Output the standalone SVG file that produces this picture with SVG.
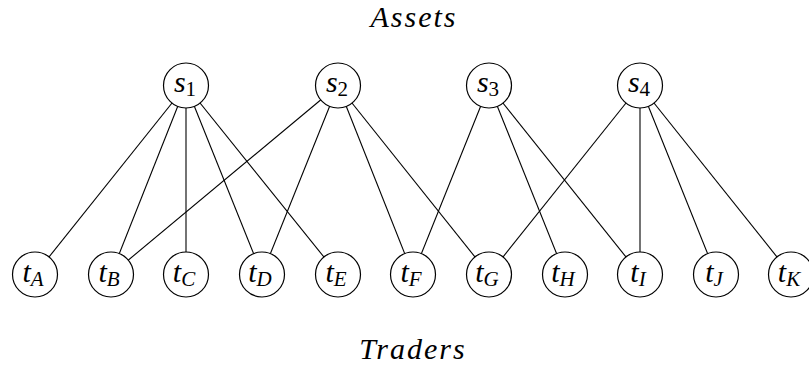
<svg xmlns="http://www.w3.org/2000/svg" width="809" height="367" viewBox="0 0 809 367">
<style>
.node circle{fill:#fff;stroke:#000;stroke-width:1.2}
.lbl{text-anchor:middle;fill:#000}
.title{text-anchor:middle;letter-spacing:2px;fill:#000}
#edges line{stroke:#000;stroke-width:1.1}
</style>
<rect width="809" height="367" fill="#fff"/>
<g font-family="Liberation Serif" font-style="italic">
<text class="title" x="414" y="27" font-size="30">Assets</text>
<text class="title" x="413" y="359" font-size="30">Traders</text>
</g>
<g id="edges">
<line x1="186" y1="85.5" x2="35" y2="274.5"/>
<line x1="186" y1="85.5" x2="111" y2="274.5"/>
<line x1="186" y1="85.5" x2="186" y2="274.5"/>
<line x1="186" y1="85.5" x2="262" y2="274.5"/>
<line x1="186" y1="85.5" x2="338" y2="274.5"/>
<line x1="338" y1="85.5" x2="111" y2="274.5"/>
<line x1="338" y1="85.5" x2="262" y2="274.5"/>
<line x1="338" y1="85.5" x2="413" y2="274.5"/>
<line x1="338" y1="85.5" x2="489" y2="274.5"/>
<line x1="489" y1="85.5" x2="413" y2="274.5"/>
<line x1="489" y1="85.5" x2="565" y2="274.5"/>
<line x1="489" y1="85.5" x2="640" y2="274.5"/>
<line x1="640" y1="85.5" x2="489" y2="274.5"/>
<line x1="640" y1="85.5" x2="640" y2="274.5"/>
<line x1="640" y1="85.5" x2="716" y2="274.5"/>
<line x1="640" y1="85.5" x2="791" y2="274.5"/>
</g>
<g font-family="Liberation Serif" font-style="italic" font-size="30">
<g id="s1" class="node"><circle cx="186" cy="85.5" r="22.5"/><text class="lbl" x="185" y="92">s<tspan font-style="normal" font-size="21" dy="4">1</tspan></text></g>
<g id="s2" class="node"><circle cx="338" cy="85.5" r="22.5"/><text class="lbl" x="337" y="92">s<tspan font-style="normal" font-size="21" dy="4">2</tspan></text></g>
<g id="s3" class="node"><circle cx="489" cy="85.5" r="22.5"/><text class="lbl" x="488" y="92">s<tspan font-style="normal" font-size="21" dy="4">3</tspan></text></g>
<g id="s4" class="node"><circle cx="640" cy="85.5" r="22.5"/><text class="lbl" x="639" y="92">s<tspan font-style="normal" font-size="21" dy="4">4</tspan></text></g>
<g id="tA" class="node"><circle cx="35" cy="274.5" r="22.5"/><text class="lbl" x="33" y="282">t<tspan font-size="21" dy="4">A</tspan></text></g>
<g id="tB" class="node"><circle cx="111" cy="274.5" r="22.5"/><text class="lbl" x="109" y="282">t<tspan font-size="21" dy="4">B</tspan></text></g>
<g id="tC" class="node"><circle cx="186" cy="274.5" r="22.5"/><text class="lbl" x="184" y="282">t<tspan font-size="21" dy="4">C</tspan></text></g>
<g id="tD" class="node"><circle cx="262" cy="274.5" r="22.5"/><text class="lbl" x="260" y="282">t<tspan font-size="21" dy="4">D</tspan></text></g>
<g id="tE" class="node"><circle cx="338" cy="274.5" r="22.5"/><text class="lbl" x="336" y="282">t<tspan font-size="21" dy="4">E</tspan></text></g>
<g id="tF" class="node"><circle cx="413" cy="274.5" r="22.5"/><text class="lbl" x="411" y="282">t<tspan font-size="21" dy="4">F</tspan></text></g>
<g id="tG" class="node"><circle cx="489" cy="274.5" r="22.5"/><text class="lbl" x="487" y="282">t<tspan font-size="21" dy="4">G</tspan></text></g>
<g id="tH" class="node"><circle cx="565" cy="274.5" r="22.5"/><text class="lbl" x="563" y="282">t<tspan font-size="21" dy="4">H</tspan></text></g>
<g id="tI" class="node"><circle cx="640" cy="274.5" r="22.5"/><text class="lbl" x="638" y="282">t<tspan font-size="21" dy="4">I</tspan></text></g>
<g id="tJ" class="node"><circle cx="716" cy="274.5" r="22.5"/><text class="lbl" x="714" y="282">t<tspan font-size="21" dy="4">J</tspan></text></g>
<g id="tK" class="node"><circle cx="791" cy="274.5" r="22.5"/><text class="lbl" x="789" y="282">t<tspan font-size="21" dy="4">K</tspan></text></g>
</g>
</svg>
